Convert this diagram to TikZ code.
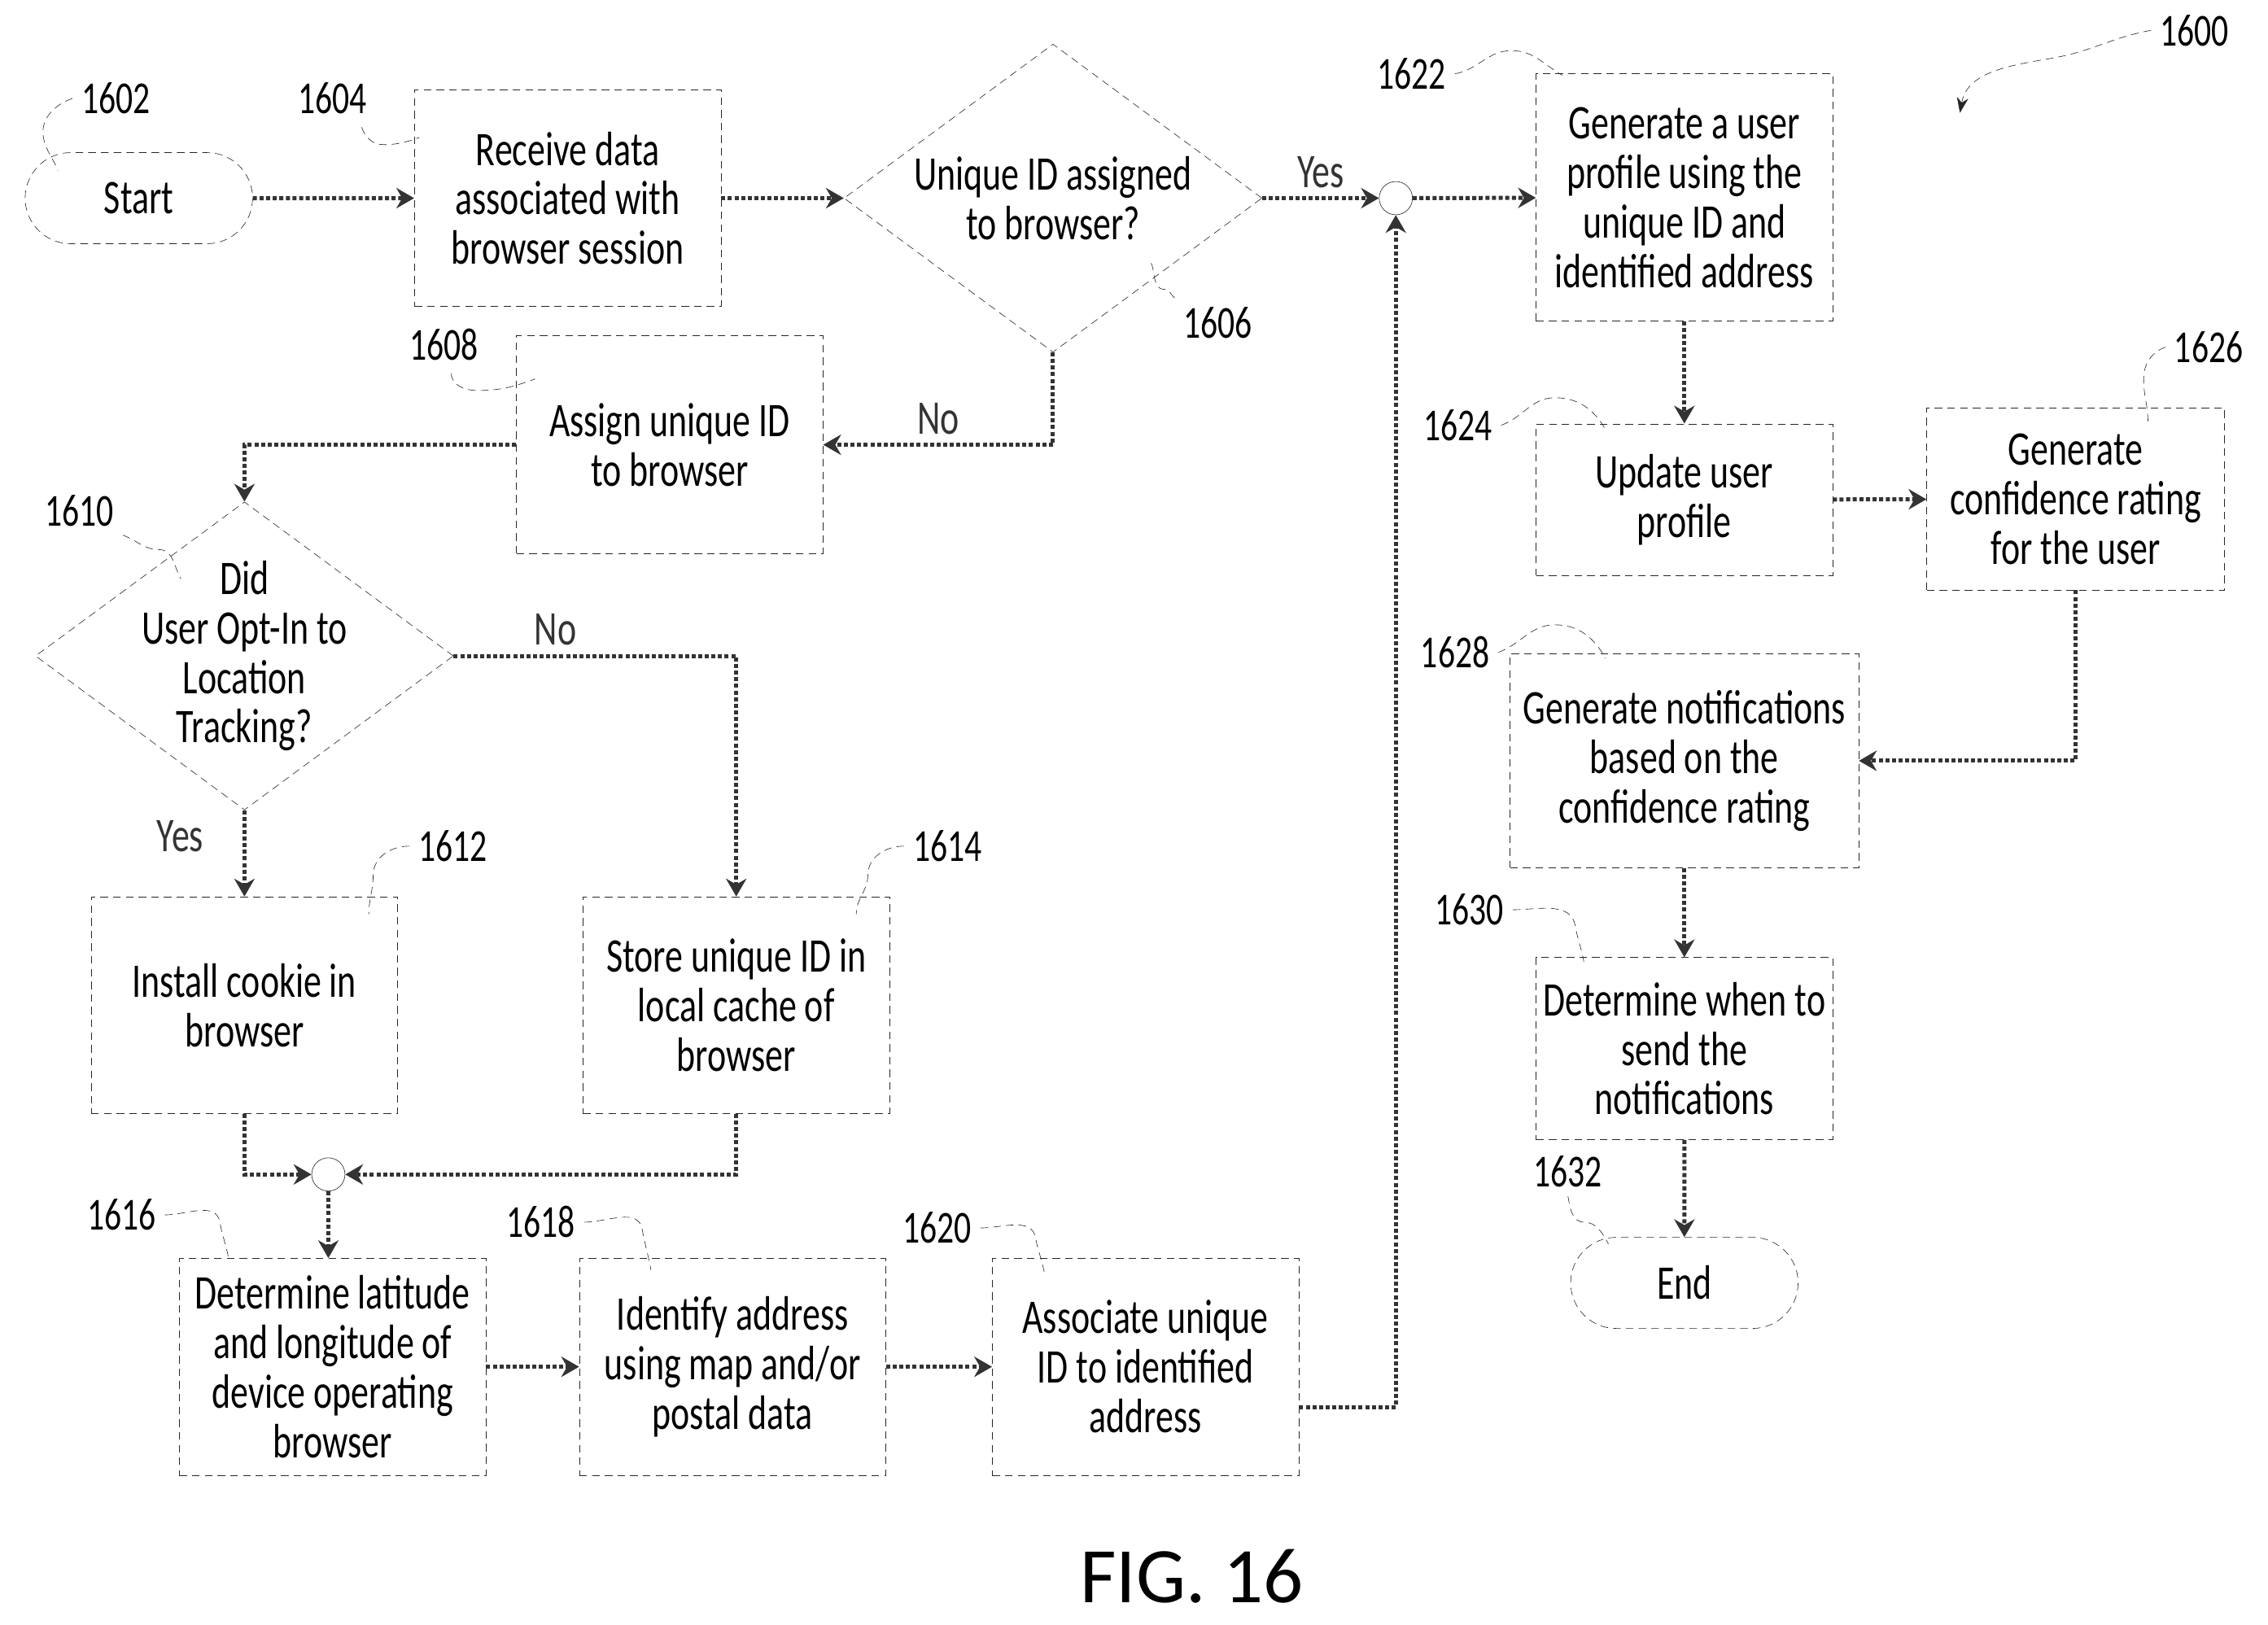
\documentclass[tikz,border=0pt]{standalone}
\usepackage{fontspec}
\setmainfont{Carlito}
\newfontfamily\narrowfont[FakeStretch=0.74]{Carlito}
\usetikzlibrary{shapes.geometric,shapes.misc,arrows.meta}
\tikzset{
  box/.style={draw=black!85, densely dashed, very thin, minimum width=#1, align=center, inner sep=2pt, font=\narrowfont\fontsize{19}{19.5}\selectfont},
  box/.default=4.24cm,
  cond/.style={draw=black!85, densely dashed, very thin, diamond, aspect=1.36, minimum width=5.78cm, minimum height=4.26cm, inner sep=-0.9cm, align=center, font=\narrowfont\fontsize{19}{19.5}\selectfont},
  term/.style={draw=black!85, densely dashed, very thin, rounded rectangle, minimum width=3.38cm, minimum height=1.26cm, font=\narrowfont\fontsize{19}{19.5}\selectfont},
  dot/.style={draw=black!85, very thin, circle, minimum size=0.46cm, inner sep=0pt},
  flow/.style={line width=1.6pt, black!80, densely dotted, -{Stealth[length=7pt,width=8pt]}},
  ref/.style={font=\narrowfont\fontsize{18}{18}\selectfont},
  tag/.style={very thin, densely dashed, black!85},
  lbl/.style={font=\narrowfont\fontsize{19}{19}\selectfont}
}
\begin{document}
\begin{tikzpicture}[x=0.02cm, y=-0.02cm]
\useasboundingbox (0,0) rectangle (1568,1123);

% flow nodes
\node[term] (start) at (96,137) {Start};
\node[box, minimum height=3cm] (recv) at (392.5,137) {Receive data\\associated with\\browser session};
\node[cond] (idq) at (728,137) {Unique ID assigned\\to browser?};
\node[box, minimum height=3.02cm] (assign) at (463,307.5) {Assign unique ID\\to browser};
\node[cond, inner sep=-1.2cm] (optq) at (169,453.5) {Did\\User Opt-In to\\Location\\Tracking?};
\node[box, minimum height=3cm] (cookie) at (169,695) {Install cookie in\\browser};
\node[box, minimum height=3cm] (cache) at (509,695) {Store unique ID in\\local cache of\\browser};
\node[dot] (j1) at (227,812) {};
\node[box, minimum height=3cm] (latlon) at (230,945) {Determine latitude\\and longitude of\\device operating\\browser};
\node[box, minimum height=3cm] (addr) at (506.5,945) {Identify address\\using map and/or\\postal data};
\node[box, minimum height=3cm] (assoc) at (792,945) {Associate unique\\ID to identified\\address};
\node[dot] (j2) at (965,137) {};
\node[box=4.1cm, minimum height=3.42cm] (prof) at (1164.5,136.5) {Generate a user\\profile using the\\unique ID and\\identified address};
\node[box=4.1cm, minimum height=2.1cm] (upd) at (1164.5,345.5) {Update user\\profile};
\node[box=4.12cm, minimum height=2.52cm] (conf) at (1435,345) {Generate\\confidence rating\\for the user};
\node[box=4.82cm, minimum height=2.96cm] (notif) at (1164.5,526) {Generate notifications\\based on the\\confidence rating};
\node[box=4.1cm, minimum height=2.52cm] (when) at (1164.5,725) {Determine when to\\send the\\notifications};
\node[term] (end) at (1164.5,887) {End};

% connectors
\draw[flow] (start) -- (recv);
\draw[flow] (recv) -- (idq);
\draw[flow] (idq.east) -- node[lbl, above, pos=0.5] {Yes} (j2);
\draw[flow] (j2) -- (prof);
\draw[flow] (idq.south) |- node[lbl, above, pos=0.75] {No} (assign.east);
\draw[flow] (assign.west) -| (optq.north);
\draw[flow] (optq.south) -- node[lbl, left=12pt, pos=0.3] {Yes} (cookie);
\draw[flow] (optq.east) -| node[lbl, above, pos=0.18] {No} (cache.north);
\draw[flow] (cookie.south) |- (j1);
\draw[flow] (cache.south) |- (j1);
\draw[flow] (j1) -- (latlon.north -| j1);
\draw[flow] (latlon) -- (addr);
\draw[flow] (addr) -- (assoc);
\draw[flow] ([yshift=-0.56cm]assoc.east) -| (j2);
\draw[flow] (prof) -- (upd);
\draw[flow] (upd) -- (conf);
\draw[flow] (conf.south) |- (notif.east);
\draw[flow] (notif) -- (when);
\draw[flow] (when) -- (end);

% reference numerals
\node[ref] (r1600) at (1517,21) {1600};
\node[ref] (r1602) at (80,68) {1602};
\node[ref] (r1604) at (230,68) {1604};
\node[ref] (r1606) at (842,223) {1606};
\node[ref] (r1608) at (307,238) {1608};
\node[ref] (r1610) at (55,353) {1610};
\node[ref] (r1612) at (313,585) {1612};
\node[ref] (r1614) at (655,585) {1614};
\node[ref] (r1616) at (84,840) {1616};
\node[ref] (r1618) at (374,845) {1618};
\node[ref] (r1620) at (648,849) {1620};
\node[ref] (r1622) at (976,51) {1622};
\node[ref] (r1624) at (1008,294) {1624};
\node[ref] (r1626) at (1527,240) {1626};
\node[ref] (r1628) at (1006,451) {1628};
\node[ref] (r1630) at (1016,629) {1630};
\node[ref] (r1632) at (1084,810) {1632};
\node[font=\fontsize{31}{31}\selectfont] (fig) at (824,1090) {FIG. 16};

\coordinate (p1600) at (1355,78);
\draw[tag, -{Stealth[length=6pt]}] (r1600.west) to[out=190,in=10] (1420,40) to[out=190,in=80] (p1600);
\draw[tag] (r1602.west) to[out=200,in=100] (30,95) to[out=-80,in=110] (40,118);
\draw[tag] (250,88) to[out=-70,in=180] (265,100) to[out=0,in=200] (290,95);
\draw[tag] (r1606.north west) to[out=140,in=0] (805,200) to[out=180,in=-60] (795,180);
\draw[tag] (312,258) to[out=-90,in=180] (330,270) to[out=0,in=200] (370,262);
\draw[tag] (r1610.south east) to[out=-20,in=180] (110,380) to[out=0,in=120] (125,400);
\draw[tag] (r1612.west) to[out=180,in=90] (258,605) to[out=-90,in=90] (255,632);
\draw[tag] (r1614.west) to[out=180,in=90] (600,605) to[out=-90,in=90] (592,632);
\draw[tag] (r1616.east) to[out=0,in=100] (152,845) to[out=-80,in=100] (158,870);
\draw[tag] (r1618.east) to[out=0,in=100] (444,850) to[out=-80,in=100] (450,878);
\draw[tag] (r1620.east) to[out=0,in=100] (716,856) to[out=-80,in=100] (722,880);
\draw[tag] (r1622.east) to[out=10,in=180] (1045,35) to[out=0,in=150] (1080,52);
\draw[tag] (r1624.east) to[out=20,in=180] (1075,275) to[out=0,in=120] (1110,297);
\draw[tag] (r1626.west) to[out=200,in=90] (1482,262) to[out=-90,in=90] (1485,292);
\draw[tag] (r1628.east) to[out=20,in=180] (1075,432) to[out=0,in=120] (1110,455);
\draw[tag] (r1630.east) to[out=0,in=100] (1089,640) to[out=-80,in=100] (1095,665);
\draw[tag] (r1632.south) to[out=-80,in=180] (1095,845) to[out=0,in=120] (1112,860);
\end{tikzpicture}
\end{document}
